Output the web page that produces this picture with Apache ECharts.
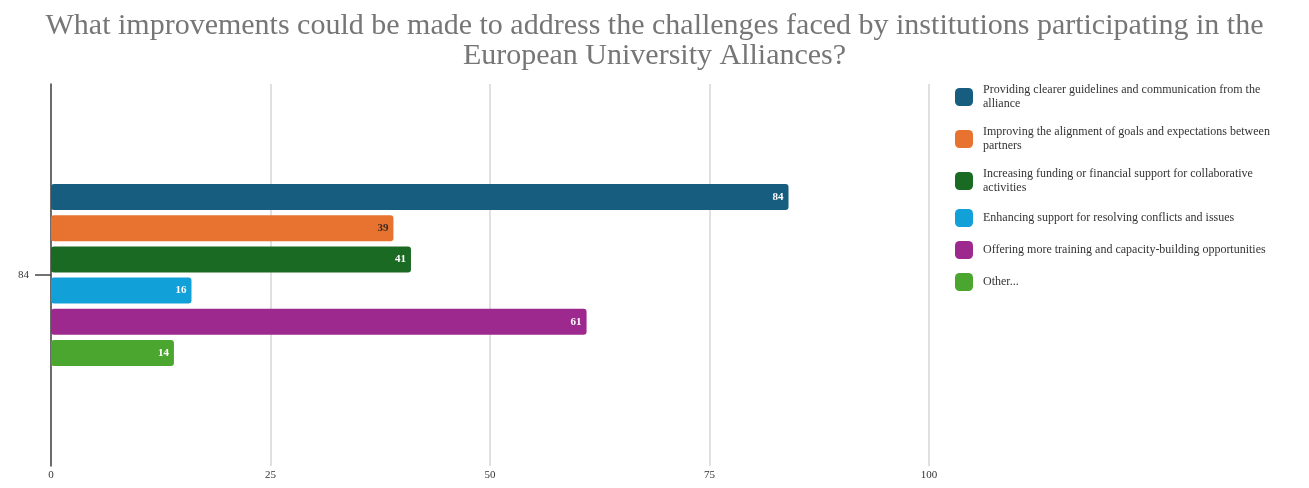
<!DOCTYPE html>
<html>
<head>
<meta charset="utf-8">
<script src="https://cdn.jsdelivr.net/npm/echarts@6/dist/echarts.min.js"></script>
<style>
  html, body { margin: 0; padding: 0; background: #fff; }
  #chart { width: 1309px; height: 488px; }
</style>
</head>
<body>
<div id="chart"></div>
<script>
// Survey responses: improvements to address challenges in European University Alliances
const titleText = 'What improvements could be made to address the challenges faced by institutions participating in the\nEuropean University Alliances?';
const categories = ['84'];
const seriesNames = [
  'Providing clearer guidelines and communication from the alliance',
  'Improving the alignment of goals and expectations between partners',
  'Increasing funding or financial support for collaborative activities',
  'Enhancing support for resolving conflicts and issues',
  'Offering more training and capacity-building opportunities',
  'Other...'
];
const seriesValues = [84, 39, 41, 16, 61, 14];
const seriesColors = ['#165d80', '#e87230', '#1b6a24', '#12a0d8', '#9d288e', '#4ba62f'];
const labelColors = ['#ffffff', '#3a2a20', '#ffffff', '#ffffff', '#ffffff', '#ffffff'];
const xTicks = [0, 25, 50, 75, 100];

const serif = '"Liberation Serif", "DejaVu Serif", serif';

const chart = echarts.init(document.getElementById('chart'), null, { renderer: 'canvas' });

const series = seriesNames.map((name, i) => ({
  name: name,
  type: 'bar',
  data: [seriesValues[i]],
  barWidth: 26,
  barGap: '20%',
  itemStyle: { color: seriesColors[i], borderRadius: 3 },
  label: {
    show: true,
    position: 'insideRight',
    distance: 5,
    color: labelColors[i],
    fontFamily: serif,
    fontSize: 11,
    fontWeight: 'bold'
  }
}));

chart.setOption({
  animation: false,
  title: {
    text: titleText,
    left: 'center',
    top: 6,
    textStyle: {
      fontFamily: serif,
      fontSize: 30,
      fontWeight: 'normal',
      color: '#767676',
      lineHeight: 30
    }
  },
  legend: {
    orient: 'vertical',
    left: 950,
    top: 78,
    itemWidth: 18,
    itemHeight: 18,
    itemGap: 14,
    icon: 'roundRect',
    data: seriesNames,
    textStyle: {
      fontFamily: serif,
      fontSize: 12,
      color: '#333',
      width: 300,
      overflow: 'break',
      lineHeight: 14,
      padding: [0, 0, 0, 5]
    }
  },
  grid: { left: 51, right: 380, top: 84, bottom: 22, containLabel: false },
  xAxis: {
    type: 'value',
    min: xTicks[0],
    max: xTicks[xTicks.length - 1],
    interval: 25,
    axisLine: { show: false },
    axisTick: { show: false },
    axisLabel: { fontFamily: serif, fontSize: 11, color: '#333', margin: 4 },
    splitLine: { lineStyle: { color: '#d6d6d6', width: 1.5 } }
  },
  yAxis: {
    type: 'category',
    data: categories,
    axisLine: { show: true, lineStyle: { color: '#444', width: 1.5 } },
    axisTick: { show: true, alignWithLabel: true, length: 16, lineStyle: { color: '#444', width: 1.5 } },
    axisLabel: { fontFamily: serif, fontSize: 11, color: '#333', margin: 22 }
  },
  series: series
});
</script>
</body>
</html>
